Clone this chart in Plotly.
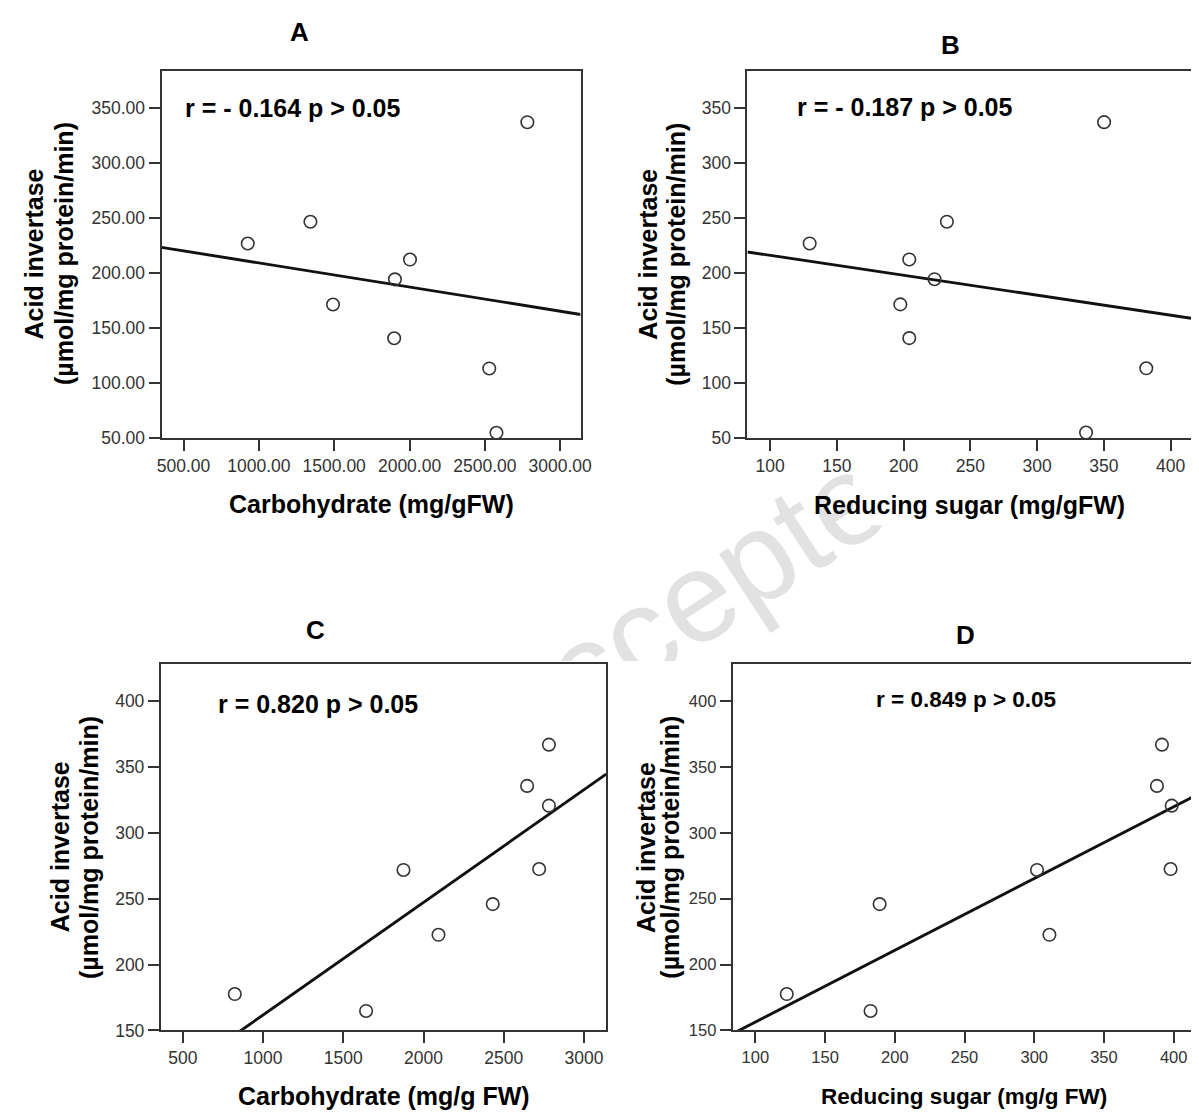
import numpy as np
import plotly.graph_objects as go

W, H = 1199, 1114

# ---------------- data ----------------
acid_AB = [226.8, 246.6, 171.3, 140.6, 194.2, 212.2, 113.1, 54.6, 337.2]
carb_A = [926, 1342, 1492, 1898, 1903, 2003, 2529, 2577, 2782]
redsug_B = [129.6, 232.4, 197.5, 204.2, 223.1, 204.2, 381.7, 336.6, 350.1]

acid_CD = [177.6, 164.8, 271.8, 222.6, 245.9, 335.6, 272.5, 366.9, 320.6]
carb_C = [824, 1642, 1875, 2093, 2431, 2645, 2720, 2781, 2781]
redsug_D = [122.5, 182.6, 302.0, 310.9, 189.1, 388.0, 397.8, 391.6, 398.6]

panel_letters = ["A", "B", "C", "D"]
r_texts = ["r = - 0.164 p > 0.05", "r = - 0.187 p > 0.05",
           "r = 0.820 p > 0.05", "r = 0.849 p > 0.05"]
x_titles = ["Carbohydrate (mg/gFW)", "Reducing sugar (mg/gFW)",
            "Carbohydrate (mg/g FW)", "Reducing sugar (mg/g FW)"]
y_title_1 = "Acid invertase"
y_title_2 = "(µmol/mg protein/min)"

x_tickvals_carb = [500, 1000, 1500, 2000, 2500, 3000]
x_tickvals_sugar = [100, 150, 200, 250, 300, 350, 400]
y_tickvals_AB = [50, 100, 150, 200, 250, 300, 350]
y_tickvals_CD = [150, 200, 250, 300, 350, 400]

watermark_text = "Accepted"

# ---------------- layout geometry (pixels) ----------------
FONT = "Liberation Sans, Arial, sans-serif"
INK = "#222222"

panels = [
    dict(x=carb_A, y=acid_AB, box=(150.7, 575.7, 64, 433.7),
         xr=[354, 3135], yr=[50, 383.4], xt=x_tickvals_carb, yt=y_tickvals_AB,
         xfmt=".2f", yfmt=".2f", tfs=17.5),
    dict(x=redsug_B, y=acid_AB, box=(745, 1196.3, 64, 433.5),
         xr=[83, 416.2], yr=[50, 383.4], xt=x_tickvals_sugar, yt=y_tickvals_AB,
         xfmt="d", yfmt="d", tfs=17.5),
    dict(x=carb_C, y=acid_CD, box=(150, 601.7, 661.7, 1031.7),
         xr=[363.6, 3137.6], yr=[150, 428.3], xt=x_tickvals_carb, yt=y_tickvals_CD,
         xfmt="d", yfmt="d", tfs=17.5),
    dict(x=redsug_D, y=acid_CD, box=(730, 1197.3, 661.7, 1031.7),
         xr=[83.7, 414.1], yr=[150, 428.3], xt=x_tickvals_sugar, yt=y_tickvals_CD,
         xfmt="d", yfmt="d", tfs=16.5),
]

title_pos = [(291, 24.5), (951, 37), (307, 628), (966, 633)]
r_pos = [(172, 101, 25), (793, 100.4, 25), (205.5, 702.8, 25), (873.4, 697.7, 22.5)]
xt_pos = [(363.5, 500, 25), (970, 502, 25), (376.3, 1098, 25), (964.6, 1098, 22.5)]
yt_pos = [((21, 52), 248), ((644, 672.5), 248), ((47.8, 77), 846.7), ((642, 667), 846.7)]

# opaque areas of the pasted chart pictures (pixels: x0, x1, y0, y1)
chart_masks = [(0, 592, 0, 522), (598, 1199, 0, 452), (852, 1199, 452, 522),
               (0, 1199, 659, 1114)]


def px(x):
    return x / W


def py(y):
    return 1 - y / H


fig = go.Figure()
annotations = []
shapes = []

# faint watermark beneath the chart pictures
shapes.append(dict(type="rect", xref="paper", yref="paper", layer="below",
                   x0=px(690), x1=px(710), y0=py(585), y1=py(565),
                   line=dict(width=0), fillcolor="rgba(0,0,0,0)",
                   label=dict(text=watermark_text, textangle=-33,
                              textposition="middle center",
                              font=dict(family=FONT, size=128, color="#e2e2e2"))))
for (mx0, mx1, my0, my1) in chart_masks:
    shapes.append(dict(type="rect", xref="paper", yref="paper", layer="below",
                       x0=px(mx0), x1=px(mx1), y0=py(my1), y1=py(my0),
                       line=dict(width=0), fillcolor="white"))

for i, p in enumerate(panels):
    n = i + 1
    xa = "x" if n == 1 else f"x{n}"
    ya = "y" if n == 1 else f"y{n}"
    l, r, t, b = p["box"]

    # regression line from the data
    slope, icpt = np.polyfit(np.array(p["x"], float), np.array(p["y"], float), 1)
    lx = np.array(p["xr"], float)
    fig.add_trace(go.Scatter(x=lx, y=slope * lx + icpt, mode="lines",
                             line=dict(color="#111111", width=2.9),
                             xaxis=xa, yaxis=ya, showlegend=False, hoverinfo="skip"))
    fig.add_trace(go.Scatter(x=p["x"], y=p["y"], mode="markers",
                             marker=dict(symbol="circle-open", size=12.5,
                                         line=dict(width=1.6, color="#333333"),
                                         color="#333333"),
                             cliponaxis=False,
                             xaxis=xa, yaxis=ya, showlegend=False))

    axis_common = dict(showline=True, mirror=True, linecolor="#333333", linewidth=2,
                       ticks="outside", ticklen=11, tickwidth=1.6, tickcolor="#333333",
                       showgrid=False, zeroline=False,
                       tickfont=dict(family=FONT, size=p["tfs"], color="#333333"))
    fig.layout[f"xaxis{'' if n == 1 else n}"] = dict(
        axis_common, domain=[px(l), px(r)], range=p["xr"], tickvals=p["xt"],
        tickformat=p["xfmt"], anchor=ya)
    fig.layout[f"yaxis{'' if n == 1 else n}"] = dict(
        axis_common, domain=[py(b), py(t)], range=p["yr"], tickvals=p["yt"],
        tickformat=p["yfmt"], anchor=xa)

    tx, ty = title_pos[i]
    annotations.append(dict(text=f"<b>{panel_letters[i]}</b>", x=px(tx), y=py(ty),
                            xref="paper", yref="paper", showarrow=False,
                            xanchor="center", yanchor="middle",
                            font=dict(family=FONT, size=26, color="black")))
    rx, ry, rs = r_pos[i]
    annotations.append(dict(text=f"<b>{r_texts[i]}</b>", x=px(rx), y=py(ry),
                            xref="paper", yref="paper", showarrow=False,
                            xanchor="left", yanchor="middle",
                            font=dict(family=FONT, size=rs, color="black")))
    cx, cy, cs = xt_pos[i]
    annotations.append(dict(text=f"<b>{x_titles[i]}</b>", x=px(cx), y=py(cy),
                            xref="paper", yref="paper", showarrow=False,
                            xanchor="center", yanchor="middle",
                            font=dict(family=FONT, size=cs, color="black")))
    (lx1, lx2), yc = yt_pos[i]
    for txt, xx in ((y_title_1, lx1), (y_title_2, lx2)):
        annotations.append(dict(text=f"<b>{txt}</b>", x=px(xx), y=py(yc),
                                xref="paper", yref="paper", showarrow=False,
                                textangle=-90, xanchor="center", yanchor="middle",
                                font=dict(family=FONT, size=25, color="black")))

fig.update_layout(width=W, height=H, margin=dict(l=0, r=0, t=0, b=0),
                  paper_bgcolor="white", plot_bgcolor="white",
                  annotations=annotations, shapes=shapes, showlegend=False,
                  font=dict(family=FONT, color=INK))

fig.write_html("out.html")
